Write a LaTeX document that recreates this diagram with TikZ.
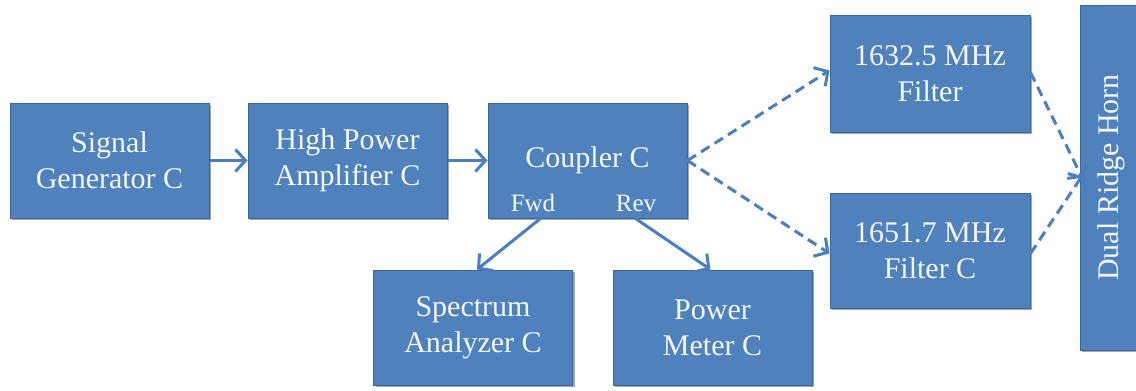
\documentclass[tikz,border=0pt]{standalone}
\usepackage{fontspec}
\setmainfont{Liberation Serif}
\usetikzlibrary{arrows.meta,shadows}
\definecolor{boxfill}{HTML}{4F81BD}
\definecolor{boxline}{HTML}{3B6899}
\definecolor{arrowc}{HTML}{4A7EBF}
\definecolor{txt}{HTML}{F4F7FB}
\tikzset{
  blockbox/.style={rectangle, fill=boxfill, draw=boxline, line width=1pt,
    minimum width=199pt, minimum height=115pt, inner sep=0pt,
    text=txt, align=center,
    font=\fontsize{30}{36}\selectfont,
    drop shadow={shadow xshift=2pt, shadow yshift=-2pt, opacity=0.35, fill=black}},
  conn/.style={draw=arrowc, line width=3pt, -{Straight Barb[length=10pt,width=22pt,line width=3pt]}},
  dconn/.style={conn, dash pattern=on 10pt off 6pt},
  portlbl/.style={text=txt, font=\fontsize{25}{28}\selectfont, inner sep=0pt}
}
\begin{document}
\begin{tikzpicture}[x=1pt,y=-1pt]
\fill[white] (0,0) rectangle (1136,391);
\useasboundingbox (0,0) rectangle (1136,391);
\node[blockbox] (sig) at (109.5,160.5) {Signal\\Generator C};
\node[blockbox] (hpa) at (347.5,160.5) {High Power\\Amplifier C};
\node[blockbox] (cpl) at (587.5,160.5) {};
\node[text=txt, font=\fontsize{30}{36}\selectfont, inner sep=0pt] (cpltext) at (587.5,160) {Coupler C};
\node[portlbl] (fwd) at (533,203) {Fwd};
\node[portlbl] (rev) at (636,203) {Rev};
\node[blockbox] (spec) at (473,327.5) {Spectrum\\Analyzer C};
\node[blockbox] (pm) at (712.5,327.5) {Power\\Meter C};
\node[blockbox, minimum width=200pt, minimum height=117pt] (f1) at (930,73.5) {1632.5 MHz\\Filter};
\node[blockbox, minimum width=200pt] (f2) at (930,250.5) {1651.7 MHz\\Filter C};
\node[blockbox, minimum width=345pt, minimum height=62pt, rotate=90] (horn) at (1111,177.5) {Dual Ridge Horn};
\draw[conn] (sig) -- (hpa);
\draw[conn] (hpa) -- (cpl);
\draw[conn] ([xshift=-47pt]cpl.south) -- ([xshift=4pt]spec.north);
\draw[conn] ([xshift=48pt]cpl.south) -- ([xshift=-2pt]pm.north);
\draw[dconn] (cpl.east) -- ([yshift=3pt]f1.west);
\draw[dconn] (cpl.east) -- ([yshift=-3pt]f2.west);
\draw[dconn] ([yshift=1pt]f1.east) -- ([xshift=-28pt, yshift=-2pt]horn.center);
\draw[dconn] ([yshift=-3pt]f2.east) -- ([xshift=-28pt, yshift=3pt]horn.center);
\end{tikzpicture}
\end{document}
